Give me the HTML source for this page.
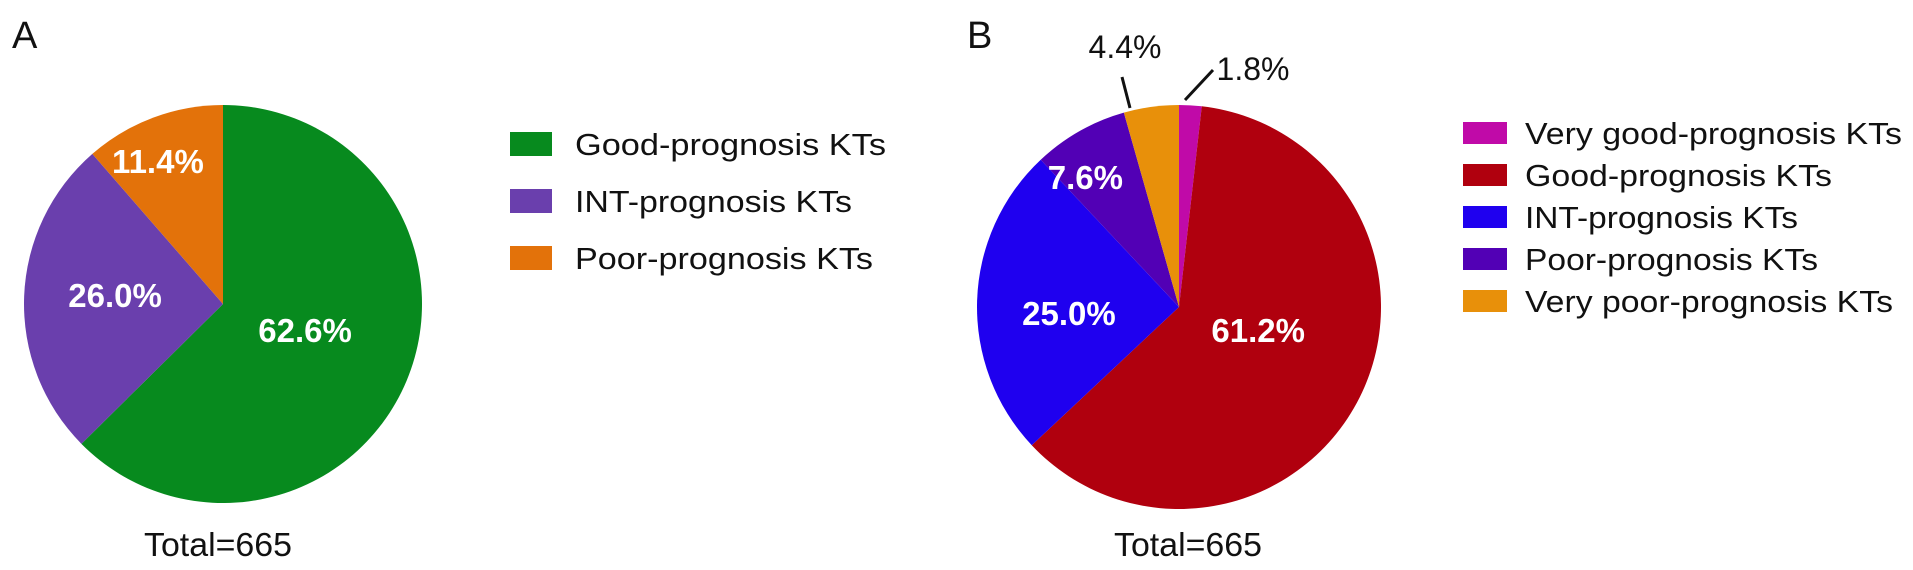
<!DOCTYPE html>
<html><head><meta charset="utf-8"><style>
html,body{margin:0;padding:0;background:#fff;width:1913px;height:570px;overflow:hidden}
svg{display:block;font-family:"Liberation Sans",Arial,sans-serif}
</style></head><body>
<svg id="chart" width="1913" height="570" viewBox="0 0 1913 570">
<text x="12" y="48" font-size="38" fill="#111">A</text>
<text x="967" y="48" font-size="38" fill="#111">B</text>
<g id="pieA"></g>
<g id="pieB"></g>
<line x1="1122" y1="77" x2="1130" y2="108" stroke="#111" stroke-width="3"/>
<line x1="1213" y1="70" x2="1185" y2="100" stroke="#111" stroke-width="3"/>
<text x="218" y="556" font-size="33" text-anchor="middle" fill="#111" textLength="148" lengthAdjust="spacingAndGlyphs">Total=665</text>
<text x="1188" y="556" font-size="33" text-anchor="middle" fill="#111" textLength="148" lengthAdjust="spacingAndGlyphs">Total=665</text>
</svg>
<script>
const catsA = ["Good-prognosis KTs","INT-prognosis KTs","Poor-prognosis KTs"];
const valsA = [62.6, 26.0, 11.4];
const colorsA = ["#078a1e","#6a3fad","#e3720a"];
const catsB = ["Very good-prognosis KTs","Good-prognosis KTs","INT-prognosis KTs","Poor-prognosis KTs","Very poor-prognosis KTs"];
const valsB = [1.8, 61.2, 25.0, 7.6, 4.4];
const colorsB = ["#c00aa8","#b0000e","#1f00ef","#5200b5","#e8900a"];
const NS="http://www.w3.org/2000/svg";
function mk(tag, attrs){const e=document.createElementNS(NS,tag);for(const k in attrs)e.setAttribute(k,attrs[k]);return e;}
function pt(cx,cy,r,a){return [cx+r*Math.sin(a), cy-r*Math.cos(a)];}
function drawPie(g, cats, vals, colors, cx, cy, r, labelOpts, legend){
  const tot=vals.reduce((a,b)=>a+b,0);
  let a0=0;
  vals.forEach((v,i)=>{
    const a1=a0+v/tot*2*Math.PI;
    const p0=pt(cx,cy,r,a0), p1=pt(cx,cy,r,a1);
    const large=(a1-a0)>Math.PI?1:0;
    const p=mk("path",{d:`M${cx},${cy}L${p0[0]},${p0[1]}A${r},${r} 0 ${large} 1 ${p1[0]},${p1[1]}Z`,fill:colors[i]});
    
    
    g.appendChild(p);
    const lo=labelOpts[i];
    const mid=(a0+a1)/2+(lo.d||0)*Math.PI/180;
    let lx,ly;
    if(lo.outside){lx=lo.x;ly=lo.y;}
    else{const q=pt(cx,cy,r*lo.f,mid);lx=q[0];ly=q[1]+11;}
    const t=mk("text",{x:lx,y:ly,"text-anchor":"middle","font-size":lo.outside?32:33,"font-weight":lo.outside?"normal":"bold",fill:lo.outside?"#111":"#fff"});
    t.textContent=v.toFixed(1)+"%";
    
    
    g.appendChild(t);
    a0=a1;
  });
  cats.forEach((c,i)=>{
    const y=legend.y0+i*legend.dy;
    const rc=mk("rect",{x:legend.x,y:y-legend.h/2,width:legend.w,height:legend.h,fill:colors[i]});
    
    
    g.appendChild(rc);
    const t=mk("text",{x:legend.tx,y:y+11,"font-size":31,fill:"#111",textLength:legend.tl[i],lengthAdjust:"spacingAndGlyphs"});
    t.textContent=c;
    
    
    g.appendChild(t);
  });
}
drawPie(document.getElementById("pieA"),catsA,valsA,colorsA,223,304,199,
  [{f:0.434,d:-4.5},{f:0.544,d:2},{f:0.785,d:-4.1}],
  {x:510,w:42,h:24,tx:575,y0:144,dy:57,tl:[311,277,298]});
drawPie(document.getElementById("pieB"),catsB,valsB,colorsB,1179,307,202,
  [{outside:true,x:1253,y:80},{f:0.41,d:-9.7},{f:0.546,d:-5.4},{f:0.79,d:-6.4},{outside:true,x:1125,y:58}],
  {x:1463,w:44,h:22,tx:1525,y0:133,dy:42,tl:[377,307,273,293,368]});
</script>
</body></html>
